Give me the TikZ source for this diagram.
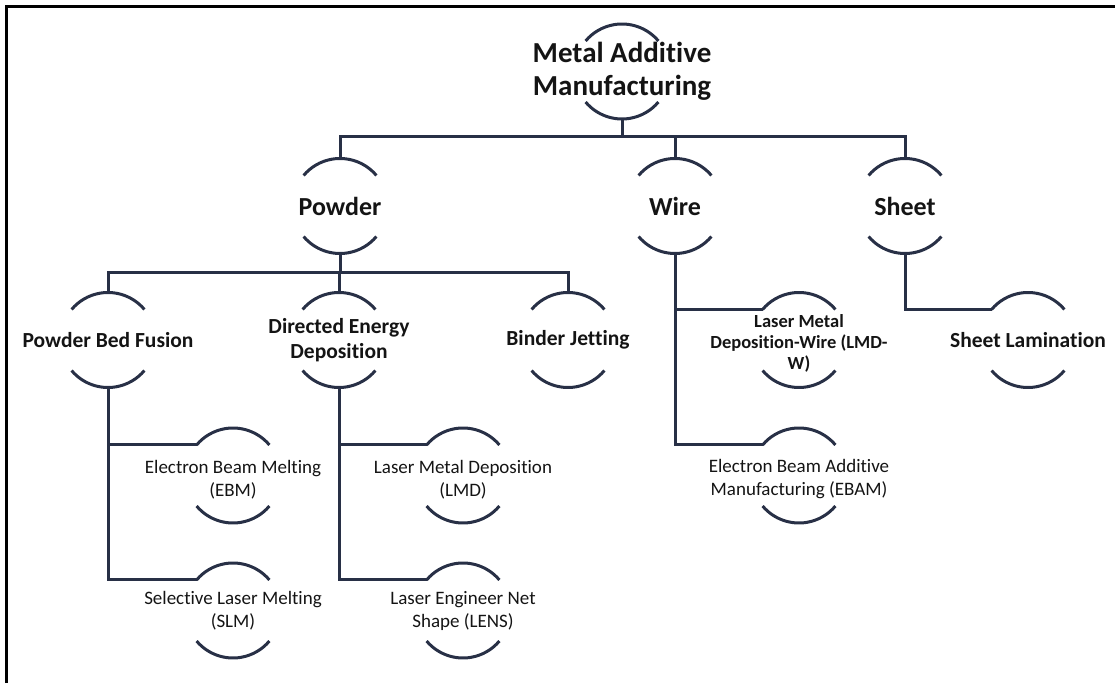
\documentclass[tikz,border=0pt]{standalone}
\usepackage{fontspec}
\setmainfont{Carlito}[Ligatures={NoCommon,NoContextual}]
\definecolor{navy}{RGB}{40,48,70}
\definecolor{txt}{RGB}{20,20,20}
\newcommand\capnode[4]{%
  \node[circ] (#1-c) at (#2) {};
  \node[#3] (#1) at (#2) {#4};
  \draw[arcline] ([shift={(40:47.5pt)}]#1-c.center) arc[start angle=40,end angle=140,radius=47.5pt];
  \draw[arcline] ([shift={(220:47.5pt)}]#1-c.center) arc[start angle=220,end angle=320,radius=47.5pt];
}
\begin{document}
\begin{tikzpicture}[x=1pt,y=1pt,
  circ/.style={circle,minimum size=95pt,inner sep=0pt,outer sep=0pt},
  arcline/.style={draw=navy,line width=3pt},
  conn/.style={draw=navy,line width=3pt},
  lvl0/.style={align=center,text=txt,font=\fontsize{29}{33}\selectfont\bfseries,inner sep=0pt},
  lvl1/.style={align=center,text=txt,font=\fontsize{26}{30}\selectfont\bfseries,inner sep=0pt},
  lvl2/.style={align=center,text=txt,font=\fontsize{21.5}{25}\selectfont\bfseries,inner sep=0pt},
  lvl2s/.style={align=center,text=txt,font=\fontsize{18.5}{21}\selectfont\bfseries,inner sep=0pt,yshift=-3pt},
  leaf/.style={align=center,text=txt,font=\fontsize{19}{23}\selectfont,inner sep=0pt},
  leafb/.style={leaf,yshift=-4pt},
  frameline/.style={draw=black,line width=3pt}
]
\useasboundingbox (0,0) rectangle (1115,683);
\draw[frameline] (6.5,0) -- (6.5,676.5) -- (1115,676.5);

\capnode{root}{622,611.5}{lvl0}{Metal Additive\\Manufacturing}
\capnode{powder}{340,477}{lvl1}{Powder}
\capnode{wire}{675,477}{lvl1}{Wire}
\capnode{sheet}{905,477}{lvl1}{Sheet}
\capnode{pbf}{108,343}{lvl2}{Powder Bed Fusion}
\capnode{ded}{339,343}{lvl2}{Directed Energy\\Deposition}
\capnode{bj}{568,343}{lvl2}{Binder Jetting}
\capnode{lmdw}{799,343}{lvl2s}{Laser Metal\\Deposition-Wire (LMD-\\W)}
\capnode{sl}{1028,343}{lvl2}{Sheet Lamination}
\capnode{ebm}{233,207.5}{leafb}{Electron Beam Melting\\(EBM)}
\capnode{slm}{233,72.5}{leaf}{Selective Laser Melting\\(SLM)}
\capnode{lmd}{463,207.5}{leafb}{Laser Metal Deposition\\(LMD)}
\capnode{lens}{463,72.5}{leaf}{Laser Engineer Net\\Shape (LENS)}
\capnode{ebam}{799,207.5}{leafb}{Electron Beam Additive\\Manufacturing (EBAM)}

\coordinate (b0) at (622,546);
\coordinate (b1) at (340,410);
\draw[conn] (root-c.south) -- (b0);
\draw[conn] (b0) -| (powder-c.north);
\draw[conn] (b0) -| (wire-c.north);
\draw[conn] (b0) -| (sheet-c.north);
\draw[conn] (powder-c.south) -- (b1);
\draw[conn] (b1) -| (pbf-c.north);
\draw[conn] (b1) -| (ded-c.north);
\draw[conn] (b1) -| (bj-c.north);
\draw[conn] (pbf-c.south) |- (ebm-c.140);
\draw[conn] (pbf-c.south) |- (slm-c.140);
\draw[conn] (ded-c.south) |- (lmd-c.140);
\draw[conn] (ded-c.south) |- (lens-c.140);
\draw[conn] (wire-c.south) |- (lmdw-c.140);
\draw[conn] (wire-c.south) |- (ebam-c.140);
\draw[conn] (sheet-c.south) |- (sl-c.140);
\end{tikzpicture}
\end{document}
